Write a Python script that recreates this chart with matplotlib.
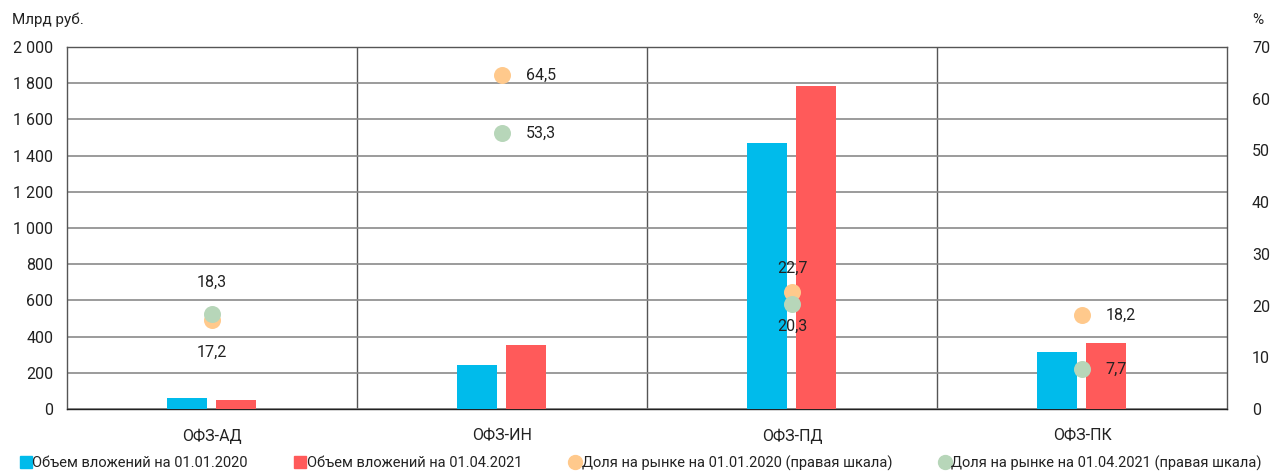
import matplotlib
matplotlib.use("Agg")
import matplotlib.pyplot as plt
from matplotlib.lines import Line2D
import numpy as np

plt.rcParams['font.family'] = ['Roboto', 'DejaVu Sans']

categories = ["ОФЗ-АД", "ОФЗ-ИН", "ОФЗ-ПД", "ОФЗ-ПК"]
volume_2020 = [62, 243, 1470, 315]
volume_2021 = [50, 354, 1785, 363]
share_2020 = [17.2, 64.5, 22.7, 18.2]
share_2021 = [18.3, 53.3, 20.3, 7.7]
left_ticks = [0, 200, 400, 600, 800, 1000, 1200, 1400, 1600, 1800, 2000]
left_tick_labels = ["0", "200", "400", "600", "800", "1 000", "1 200", "1 400", "1 600", "1 800", "2 000"]
right_ticks = [0, 10, 20, 30, 40, 50, 60, 70]

legend_labels = ["Объем вложений на 01.01.2020", "Объем вложений на 01.04.2021",
                 "Доля на рынке на 01.01.2020 (правая шкала)",
                 "Доля на рынке на 01.04.2021 (правая шкала)"]

c_blue = "#00BBEB"
c_red = "#FF5A5A"
c_orange = "#FFC98C"
c_green = "#B7D6B9"
grid_c = "#8a8a8a"
text_c = "#222222"

fig = plt.figure(figsize=(12.71, 4.73), dpi=100)
ax = fig.add_axes([67 / 1271, 1 - 409 / 473, 1160 / 1271, 362 / 473])
ax2 = ax.twinx()

x = np.arange(len(categories))
w = 0.138
ax.bar(x - 0.086, volume_2020, width=w, color=c_blue, zorder=3)
ax.bar(x + 0.083, volume_2021, width=w, color=c_red, zorder=3)

ax.set_xlim(-0.5, len(categories) - 0.5)
ax.set_ylim(0, 2000)
ax.set_yticks(left_ticks)
ax.set_yticklabels(left_tick_labels)
ax.set_xticks(x)
ax.set_xticklabels(categories)
ax.grid(axis='y', color=grid_c, linewidth=1.2, zorder=0)
for b in np.arange(0.5, len(categories) - 0.5, 1):
    ax.axvline(b, color="#555555", linewidth=1.0, zorder=1)
ax.tick_params(axis='both', length=0, labelsize=11.5, colors=text_c)
ax.tick_params(axis='x', pad=14)
ax.tick_params(axis='y', pad=10)
for s in ["top", "left", "right"]:
    ax.spines[s].set_color("#555555")
    ax.spines[s].set_linewidth(1.0)
ax.spines["bottom"].set_color("#222222")
ax.spines["bottom"].set_linewidth(1.0)

ax2.set_ylim(0, 70)
ax2.set_yticks(right_ticks)
ax2.tick_params(axis='y', length=0, labelsize=11.5, colors=text_c, pad=18)
for s in ax2.spines.values():
    s.set_visible(False)

ax2.scatter(x, share_2020, s=150, color=c_orange, zorder=4, linewidths=0)
ax2.scatter(x, share_2021, s=150, color=c_green, zorder=5, linewidths=0)


def fmt(v):
    return f"{v:.1f}".replace(".", ",")


lbl_kw = dict(fontsize=11.5, color=text_c, zorder=6, textcoords="offset points", va="center")
# ОФЗ-АД: above / below
ax2.annotate(fmt(share_2021[0]), (x[0], share_2021[0]), xytext=(0, 23), ha="center", **lbl_kw)
ax2.annotate(fmt(share_2020[0]), (x[0], share_2020[0]), xytext=(0, -23), ha="center", **lbl_kw)
# ОФЗ-ИН: right
for v in (share_2020[1], share_2021[1]):
    ax2.annotate(fmt(v), (x[1], v), xytext=(17, 0), ha="left", **lbl_kw)
# ОФЗ-ПД: above / below
ax2.annotate(fmt(share_2020[2]), (x[2], share_2020[2]), xytext=(0, 17), ha="center", **lbl_kw)
ax2.annotate(fmt(share_2021[2]), (x[2], share_2021[2]), xytext=(0, -16), ha="center", **lbl_kw)
# ОФЗ-ПК: right
for v in (share_2020[3], share_2021[3]):
    ax2.annotate(fmt(v), (x[3], v), xytext=(17, 0), ha="left", **lbl_kw)

fig.text(12 / 1271, 1 - 20 / 473, "Млрд руб.", fontsize=11, color=text_c, va="center", ha="left")
fig.text(1258 / 1271, 1 - 20 / 473, "%", fontsize=11, color=text_c, va="center", ha="center")

handles = [
    Line2D([], [], marker="s", linestyle="none", color=c_blue, markersize=8),
    Line2D([], [], marker="s", linestyle="none", color=c_red, markersize=8),
    Line2D([], [], marker="o", linestyle="none", color=c_orange, markersize=10),
    Line2D([], [], marker="o", linestyle="none", color=c_green, markersize=10),
]
fig.legend(handles, legend_labels, loc="center", bbox_to_anchor=(1 - 1271 / 2 / 1271 + 6 / 1271, 1 - 463 / 473),
           ncol=4, frameon=False, fontsize=10.5, handlelength=0.6, handletextpad=0.15,
           columnspacing=3.3, labelcolor=text_c)

fig.savefig("out.png", dpi=100)
